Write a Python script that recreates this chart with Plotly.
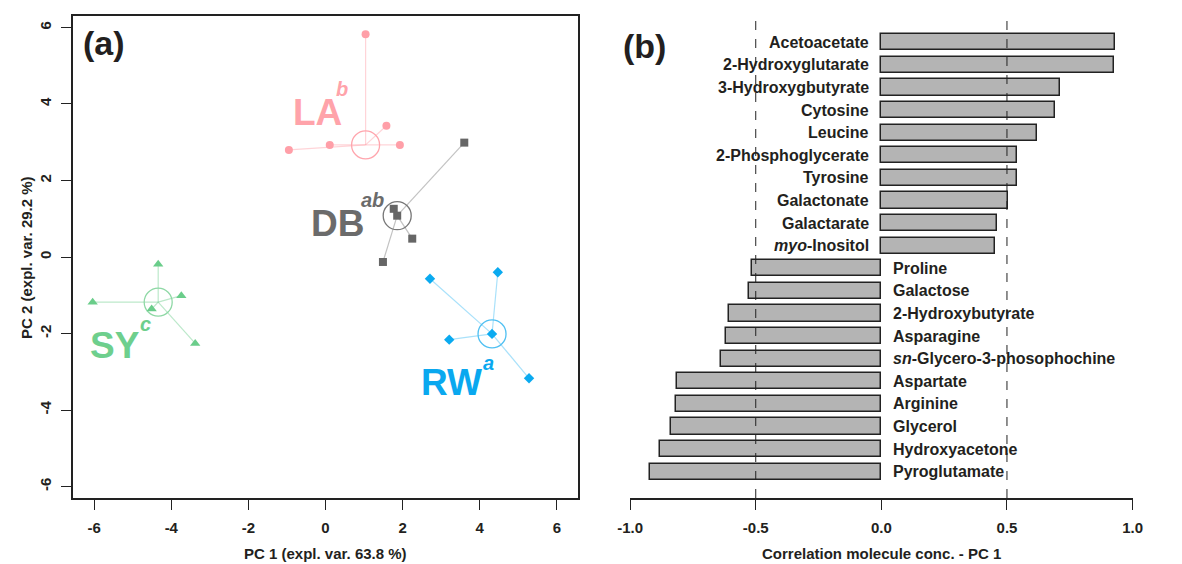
import plotly.graph_objects as go
import statistics as st

# ---------------- Data: panel (a) PCA scores ----------------
groups = ["LA", "DB", "SY", "RW"]
group_sup = ["b", "ab", "c", "a"]
la_pc1 = [1.04, 1.58, 0.11, 1.93, -0.95]
la_pc2 = [5.82, 3.43, 2.93, 2.93, 2.80]
db_pc1 = [3.60, 1.77, 1.86, 2.25, 1.49]
db_pc2 = [2.99, 1.26, 1.08, 0.48, -0.13]
sy_pc1 = [-4.34, -3.74, -6.04, -4.51, -3.38]
sy_pc2 = [-0.19, -1.01, -1.18, -1.36, -2.26]
rw_pc1 = [2.71, 4.47, 4.32, 3.21, 5.28]
rw_pc2 = [-0.57, -0.40, -2.01, -2.16, -3.17]
x_ticks_a = [-6, -4, -2, 0, 2, 4, 6]
y_ticks_a = [-6, -4, -2, 0, 2, 4, 6]

# ---------------- Data: panel (b) correlations ----------------
molecules = ["Acetoacetate", "2-Hydroxyglutarate", "3-Hydroxygbutyrate", "Cytosine",
             "Leucine", "2-Phosphoglycerate", "Tyrosine", "Galactonate", "Galactarate",
             "<i>myo</i>-Inositol", "Proline", "Galactose", "2-Hydroxybutyrate",
             "Asparagine", "<i>sn</i>-Glycero-3-phosophochine", "Aspartate", "Arginine",
             "Glycerol", "Hydroxyacetone", "Pyroglutamate"]
correlation = [0.930, 0.925, 0.711, 0.693, 0.620, 0.539, 0.540, 0.506, 0.462, 0.454,
               -0.515, -0.526, -0.605, -0.618, -0.639, -0.812, -0.818, -0.836, -0.883, -0.920]
x_ticks_b = [-1.0, -0.5, 0.0, 0.5, 1.0]

# ---------------- Layout helpers (page has an 8px body margin) ----------------
OFF = 8
W, H = 1182 - OFF, 564 - OFF


def fx(px):
    return (px - OFF) / W


def fy(py):
    return 1 - (py - OFF) / H


# ---------------- Styles ----------------
FONT = "Liberation Sans, Arial, sans-serif"
TXT = "#231f20"
styles = {
    "LA": dict(m="#FF9FA8", line="rgba(255,159,168,0.45)", circ="#FFA5AD", sym="circle", size=8, lab="#FFA3AA"),
    "DB": dict(m="#666666", line="rgba(120,120,120,0.45)", circ="#777777", sym="square", size=8, lab="#6B6B6B"),
    "SY": dict(m="#6ACD8A", line="rgba(106,205,138,0.45)", circ="#8ED8A5", sym="triangle-up", size=9, lab="#6ECF8D"),
    "RW": dict(m="#0AAAF0", line="rgba(10,170,240,0.35)", circ="#50C0F2", sym="diamond", size=8, lab="#0AA8EF"),
}
# label offsets relative to group centroid (data units)
label_off = {"LA": (-1.25, 0.85), "DB": (-1.54, -0.20), "SY": (-1.13, -1.13), "RW": (-1.04, -1.28)}
sup_off = {"LA": (-0.60, 1.45), "DB": (-0.64, 0.40), "SY": (-0.33, -0.58), "RW": (-0.09, -0.75)}

data_a = {"LA": (la_pc1, la_pc2), "DB": (db_pc1, db_pc2), "SY": (sy_pc1, sy_pc2), "RW": (rw_pc1, rw_pc2)}

fig = go.Figure()
annotations = []

for g, sup in zip(groups, group_sup):
    xs, ys = data_a[g]
    s = styles[g]
    cx, cy = st.median(xs), st.median(ys)
    lx, ly = [], []
    for x, y in zip(xs, ys):
        lx += [cx, x, None]
        ly += [cy, y, None]
    fig.add_trace(go.Scatter(x=lx, y=ly, mode="lines", line=dict(color=s["line"], width=1.2),
                             xaxis="x", yaxis="y", showlegend=False, hoverinfo="skip"))
    fig.add_trace(go.Scatter(x=[cx], y=[cy], mode="markers",
                             marker=dict(symbol="circle-open", size=28, color=s["circ"], line=dict(width=1.3)),
                             xaxis="x", yaxis="y", showlegend=False))
    fig.add_trace(go.Scatter(x=xs, y=ys, mode="markers",
                             marker=dict(symbol=s["sym"], size=s["size"], color=s["m"]),
                             xaxis="x", yaxis="y", showlegend=False))
    ox, oy = label_off[g]
    annotations.append(dict(x=cx + ox, y=cy + oy, xref="x", yref="y", text=f"<b>{g}</b>",
                            showarrow=False, font=dict(family=FONT, size=37, color=s["lab"]),
                            xanchor="center", yanchor="middle"))
    sx, sy = sup_off[g]
    annotations.append(dict(x=cx + sx, y=cy + sy, xref="x", yref="y", text=f"<b><i>{sup}</i></b>",
                            showarrow=False, font=dict(family=FONT, size=20, color=s["lab"]),
                            xanchor="center", yanchor="middle"))

# ---------------- Panel (b) bars ----------------
n = len(molecules)
ypos = [n - i for i in range(n)]
fig.add_trace(go.Bar(x=correlation, y=ypos, orientation="h", width=0.72,
                     marker=dict(color="#B4B4B4", line=dict(color="#222222", width=1.5)),
                     xaxis="x2", yaxis="y2", showlegend=False))
for name, v, yp in zip(molecules, correlation, ypos):
    if v >= 0:
        annotations.append(dict(x=0, y=yp, xref="x2", yref="y2", text=f"<b>{name}</b>",
                                showarrow=False, xanchor="right", yanchor="middle", xshift=-10,
                                font=dict(family=FONT, size=16, color=TXT)))
    else:
        annotations.append(dict(x=0, y=yp, xref="x2", yref="y2", text=f"<b>{name}</b>",
                                showarrow=False, xanchor="left", yanchor="middle", xshift=10,
                                font=dict(family=FONT, size=16, color=TXT)))

shapes = []
for xv in (-0.5, 0.5):
    shapes.append(dict(type="line", xref="x2", yref="y2 domain", x0=xv, x1=xv, y0=0, y1=1,
                       line=dict(color="#222222", width=1, dash="dash")))

# panel letters and axis titles
annotations += [
    dict(x=fx(104), y=fy(43), xref="paper", yref="paper", text="<b>(a)</b>", showarrow=False,
         font=dict(family=FONT, size=34, color=TXT), xanchor="center", yanchor="middle"),
    dict(x=fx(644), y=fy(46), xref="paper", yref="paper", text="<b>(b)</b>", showarrow=False,
         font=dict(family=FONT, size=34, color=TXT), xanchor="center", yanchor="middle"),
    dict(x=fx(325), y=fy(553), xref="paper", yref="paper", text="<b>PC 1 (expl. var. 63.8 %)</b>",
         showarrow=False, font=dict(family=FONT, size=15, color=TXT), xanchor="center", yanchor="middle"),
    dict(x=fx(26), y=fy(258), xref="paper", yref="paper", text="<b>PC 2 (expl. var. 29.2 %)</b>",
         showarrow=False, textangle=-90, font=dict(family=FONT, size=15, color=TXT),
         xanchor="center", yanchor="middle"),
    dict(x=fx(881), y=fy(553), xref="paper", yref="paper",
         text="<b>Correlation molecule conc. - PC 1</b>",
         showarrow=False, font=dict(family=FONT, size=15, color=TXT), xanchor="center", yanchor="middle"),
]

ydom = [fy(498), fy(16)]
axis_common = dict(showgrid=False, zeroline=False, ticks="outside", ticklen=10, tickwidth=1.3,
                   tickcolor="#222222", linecolor="#222222", linewidth=1.5, showline=True,
                   automargin=False, tickfont=dict(family=FONT, size=15, color=TXT))

fig.update_layout(
    width=W, height=H, margin=dict(l=0, r=0, t=0, b=0, pad=0),
    plot_bgcolor="white", paper_bgcolor="white",
    xaxis=dict(domain=[fx(73), fx(578)], range=[-6.55, 6.55], tickvals=x_ticks_a,
               ticktext=[f"<b>{t}</b>" for t in x_ticks_a], mirror=True, anchor="y",
               ticklabelstandoff=5, **axis_common),
    yaxis=dict(domain=ydom, range=[-6.3, 6.3], tickvals=y_ticks_a,
               ticktext=[f"<b>{t}</b>" for t in y_ticks_a], mirror=True, anchor="x",
               tickangle=-90, ticklabelstandoff=4, **axis_common),
    xaxis2=dict(domain=[fx(630), fx(1132.7)], range=[-1.0005, 1.0005], tickvals=x_ticks_b,
                ticktext=[f"<b>{t:.1f}</b>" for t in x_ticks_b], anchor="y2",
                ticklabelstandoff=5, **axis_common),
    yaxis2=dict(domain=ydom, range=[-0.16, n + 1.16], visible=False, anchor="x2", automargin=False),
    annotations=annotations, shapes=shapes, bargap=0,
)

fig.write_html("out.html")
